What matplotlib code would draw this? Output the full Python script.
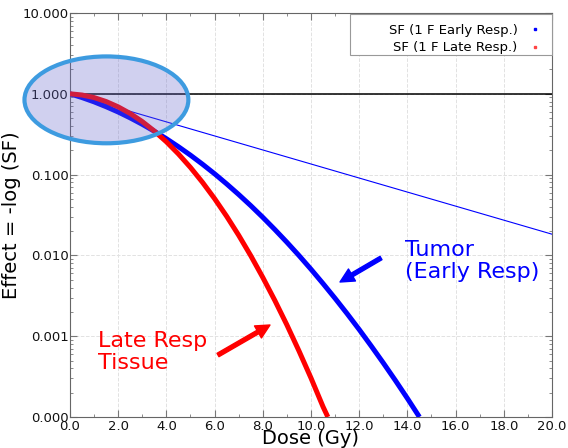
import matplotlib
matplotlib.use("Agg")
import matplotlib.pyplot as plt
from matplotlib.patches import Ellipse, Rectangle
from matplotlib.lines import Line2D
from matplotlib.ticker import FormatStrFormatter, MultipleLocator, LogLocator, NullFormatter

# Data

dose_early = [0.0, 0.5, 1.0, 1.5, 2.0, 2.5, 3.0, 3.5, 4.0, 4.5, 5.0, 5.5, 6.0,
              6.5, 7.0, 7.5, 8.0, 8.5, 9.0, 9.5, 10.0, 10.5, 11.0, 11.5, 12.0,
              12.5, 13.0, 13.5, 14.0, 14.5]
sf_early = [1.0, 0.898, 0.795, 0.692, 0.595, 0.503, 0.419, 0.344, 0.278,
            0.2214, 0.1738, 0.1343, 0.1023, 0.0767, 0.0567, 0.0413, 0.0296,
            0.0209, 0.01455, 0.00998, 0.00674, 0.00448, 0.00294, 0.00190,
            0.00121, 0.000756, 0.000467, 0.000284, 0.000170, 0.0001]

dose_late = [0.0, 0.5, 1.0, 1.5, 2.0, 2.5, 3.0, 3.5, 4.0, 4.5, 5.0, 5.5, 6.0,
             6.5, 7.0, 7.5, 8.0, 8.5, 9.0, 9.5, 10.0, 10.5, 10.7]
sf_late = [1.0, 0.966, 0.898, 0.802, 0.689, 0.570, 0.453, 0.346, 0.2546,
           0.180, 0.1225, 0.0801, 0.0504, 0.0305, 0.01774, 0.00993, 0.00534,
           0.00277, 0.00138, 0.000659, 0.000304, 0.000134, 0.0001]

# single-hit (alpha) line
dose_alpha = [0.0, 20.0]
sf_alpha = [1.0, 0.0183]

legend_labels = ["SF (1 F Early Resp.)", "SF (1 F Late Resp.)"]

# Figure

fig = plt.figure(figsize=(5.68, 4.48), dpi=100)
ax = fig.add_axes([0.1232, 0.0692, 0.8486, 0.9018])

ax.set_yscale('log')
ax.set_xlim(0, 20)
ax.set_ylim(1e-4, 10)

ax.grid(True, which='major', color='#e2e2e2', linestyle='--', linewidth=0.7)
ax.axhline(1.0, color='black', linewidth=1.1, zorder=2)

ax.plot(dose_alpha, sf_alpha, color='blue', linewidth=0.8, zorder=3)
ax.plot(dose_early, sf_early, color='blue', linewidth=3.6, zorder=4,
        solid_capstyle='butt')
ax.plot(dose_late, sf_late, color='red', linewidth=3.6, zorder=5,
        solid_capstyle='butt')

# Ticks
ax.xaxis.set_major_locator(MultipleLocator(2.0))
ax.xaxis.set_minor_locator(MultipleLocator(1.0))
ax.xaxis.set_major_formatter(FormatStrFormatter('%.1f'))
ax.yaxis.set_major_locator(LogLocator(base=10, numticks=10))
ax.yaxis.set_minor_locator(LogLocator(base=10, subs=range(2, 10), numticks=20))
ax.yaxis.set_major_formatter(FormatStrFormatter('%.3f'))
ax.yaxis.set_minor_formatter(NullFormatter())
ax.tick_params(which='both', direction='in', top=True, right=True,
               color='#777777', labelsize=9.5, labelcolor='#111111')
ax.tick_params(which='major', length=5)
ax.tick_params(which='minor', length=2.5)
ax.tick_params(axis='x', pad=2)
ax.tick_params(axis='y', pad=1)
for s in ax.spines.values():
    s.set_color('#666666')

ax.set_xlabel('Dose (Gy)', fontsize=14, labelpad=-3)
ax.set_ylabel('Effect = -log (SF)', fontsize=14, labelpad=1)

# Legend (markers only, text on the left), wide frame drawn separately
handles = [Line2D([], [], linestyle='none', marker='s', markersize=2,
                  color='blue'),
           Line2D([], [], linestyle='none', marker='s', markersize=2,
                  color='#ff4444')]
leg = ax.legend(handles, legend_labels, loc='upper right', markerfirst=False,
                fontsize=9.5, frameon=False, borderaxespad=0.3,
                handlelength=1.0, labelspacing=0.35, borderpad=0.5)
leg.set_zorder(8)
frame = Rectangle((0.581, 0.896), 0.419, 0.1015, transform=ax.transAxes,
                  facecolor='white', edgecolor='#999999', linewidth=0.8,
                  zorder=7, clip_on=False)
ax.add_patch(frame)

# Highlight ellipse
ell = Ellipse((0.0756, 0.785), 0.340, 0.215, transform=ax.transAxes,
              facecolor=(0.40, 0.40, 0.80, 0.30), edgecolor='#3d9be0',
              linewidth=3.0, zorder=6, clip_on=False)
ax.add_patch(ell)

# Annotations
ax.text(0.696, 0.438, 'Tumor\n(Early Resp)', transform=ax.transAxes,
        color='blue', fontsize=16, va='top', ha='left', linespacing=1.15)
ax.text(0.058, 0.213, 'Late Resp\nTissue', transform=ax.transAxes,
        color='red', fontsize=16, va='top', ha='left', linespacing=1.15)

ax.annotate('', xy=(340, 448 - 282), xytext=(381, 448 - 258),
            xycoords='figure pixels', textcoords='figure pixels',
            arrowprops=dict(facecolor='blue', edgecolor='blue', width=2.8,
                            headwidth=10, headlength=10, shrink=0))
ax.annotate('', xy=(270, 448 - 325), xytext=(218, 448 - 355),
            xycoords='figure pixels', textcoords='figure pixels',
            arrowprops=dict(facecolor='red', edgecolor='red', width=2.8,
                            headwidth=10, headlength=10, shrink=0))

fig.savefig('out.png', dpi=100)
